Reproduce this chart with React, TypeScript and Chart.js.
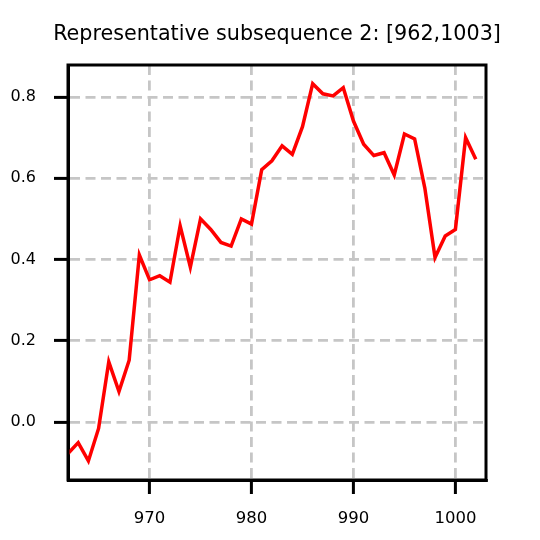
import React, { useEffect, useRef } from 'react';
import { Chart, registerables, Plugin } from 'chart.js';

Chart.register(...registerables);

const steps = [
  962, 963, 964, 965, 966, 967, 968, 969, 970, 971, 972, 973, 974, 975,
  976, 977, 978, 979, 980, 981, 982, 983, 984, 985, 986, 987, 988, 989,
  990, 991, 992, 993, 994, 995, 996, 997, 998, 999, 1000, 1001, 1002,
];
const values = [
  -0.078, -0.051, -0.096, -0.016, 0.148, 0.075, 0.152, 0.411, 0.35, 0.36, 0.344, 0.483, 0.381, 0.5,
  0.474, 0.442, 0.433, 0.5, 0.487, 0.621, 0.643, 0.68, 0.659, 0.727, 0.833, 0.808, 0.803, 0.823,
  0.741, 0.684, 0.656, 0.663, 0.608, 0.709, 0.697, 0.576, 0.405, 0.458, 0.474, 0.7, 0.647,
];
const xTicks = [970, 980, 990, 1000];
const yTicks = [0.0, 0.2, 0.4, 0.6, 0.8];
const title = 'Representative subsequence 2: [962,1003]';

const FONT = "'DejaVu Sans', sans-serif";

// matplotlib style frame (all four spines) and a title centred over the axes
const framePlugin: Plugin<'line'> = {
  id: 'frame',
  afterDraw(chart) {
    const { ctx, chartArea } = chart;
    ctx.save();
    ctx.strokeStyle = '#000';
    ctx.lineWidth = 3;
    ctx.strokeRect(chartArea.left, chartArea.top, chartArea.right - chartArea.left, chartArea.bottom - chartArea.top);
    ctx.fillStyle = '#000';
    ctx.font = `20.7px ${FONT}`;
    ctx.textAlign = 'center';
    ctx.textBaseline = 'alphabetic';
    ctx.fillText(title, (chartArea.left + chartArea.right) / 2, 40);
    ctx.restore();
  },
};

const gridOpts = {
  color: '#c6c6c6',
  lineWidth: 2.8,
  tickColor: '#000',
  tickWidth: 3,
  tickLength: 14,
  tickBorderDash: [],
};

export default function App() {
  const canvasRef = useRef<HTMLCanvasElement | null>(null);

  useEffect(() => {
    if (!canvasRef.current) return;
    const chart = new Chart(canvasRef.current, {
      type: 'line',
      data: {
        datasets: [{
          data: steps.map((s, i) => ({ x: s, y: values[i] })),
          borderColor: '#ff0000',
          borderWidth: 3.5,
          pointRadius: 0,
          tension: 0,
          fill: false,
        }],
      },
      options: {
        animation: false,
        responsive: true,
        maintainAspectRatio: false,
        layout: { padding: { left: 0, right: 54, top: 65, bottom: 0 } },
        plugins: {
          legend: { display: false },
          tooltip: { enabled: false },
          title: { display: false },
        },
        scales: {
          x: {
            type: 'linear',
            min: 962,
            max: 1003,
            afterBuildTicks: (scale) => { scale.ticks = xTicks.map((v) => ({ value: v })); },
            afterFit: (scale) => { scale.height = 60; },
            ticks: {
              color: '#000',
              font: { family: FONT, size: 16.5 },
              padding: 15,
              maxRotation: 0,
              callback: (v) => String(v),
            },
            grid: gridOpts,
            border: { color: '#000', width: 3, dash: [10, 5.5] },
          },
          y: {
            type: 'linear',
            min: -0.143,
            max: 0.879,
            afterBuildTicks: (scale) => { scale.ticks = yTicks.map((v) => ({ value: v })); },
            afterFit: (scale) => { scale.width = 68; },
            ticks: {
              color: '#000',
              font: { family: FONT, size: 16 },
              padding: 18,
              callback: (v) => Number(v).toFixed(1),
            },
            grid: gridOpts,
            border: { color: '#000', width: 3, dash: [10, 5.5] },
          },
        },
      },
      plugins: [framePlugin],
    });
    return () => chart.destroy();
  }, []);

  return (
    <div style={{ position: 'absolute', left: 0, top: 0, width: 540, height: 540, background: '#fff' }}>
      <canvas ref={canvasRef} />
    </div>
  );
}
